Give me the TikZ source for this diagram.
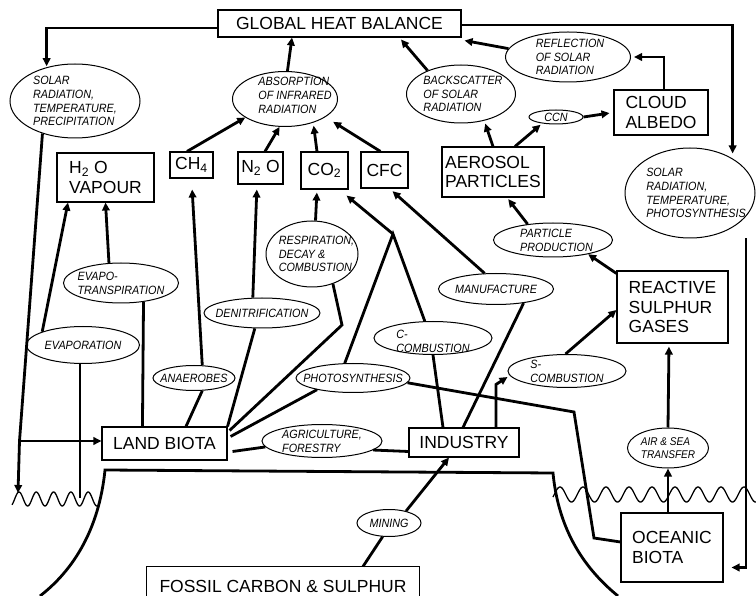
\documentclass[tikz,border=0pt]{standalone}
\usepackage{fontspec}
\setmainfont{Liberation Sans}
\newfontfamily\ellfont[FakeStretch=0.9]{Liberation Sans}
\usetikzlibrary{shapes.geometric,arrows.meta}
\begin{document}
\begin{tikzpicture}[x=1pt,y=-1pt,
  box/.style={draw,line width=1.1pt,inner sep=2pt,font=\fontsize{17.5}{19.5}\selectfont,align=left},
  ell/.style={draw,ellipse,line width=1pt,inner sep=0pt},
  lbl/.style={font=\ellfont\fontsize{12}{13.8}\selectfont\itshape,align=left,inner sep=0pt},
  con/.style={line width=2.8pt},
  arr/.style={con,-{Triangle[length=8pt,width=7.5pt]}},
  wave/.style={line width=1.3pt},
  ground/.style={line width=2.8pt}
]
\useasboundingbox (0,0) rectangle (756,596);

% boxes
\node[box,minimum width=243pt,minimum height=27pt] (ghb) at (339.5,23.5) {GLOBAL HEAT BALANCE};
\node[box,minimum width=97pt,minimum height=49pt] (h2o) at (105.5,177.5) {H\textsubscript{2} O\\VAPOUR};
\node[box,minimum width=43pt,minimum height=26pt] (ch4) at (191.5,165) {CH\textsubscript{4}};
\node[box,minimum width=45pt,minimum height=32pt] (n2o) at (260.5,168) {N\textsubscript{2} O};
\node[box,minimum width=47pt,minimum height=37pt] (co2) at (324.5,170.5) {CO\textsubscript{2}};
\node[box,minimum width=47pt,minimum height=36pt] (cfc) at (384.5,170) {CFC};
\node[box,minimum width=102pt,minimum height=50pt] (aer) at (493,172) {AEROSOL\\PARTICLES};
\node[box,minimum width=94pt,minimum height=45pt] (cloud) at (661,112.5) {CLOUD\\ALBEDO};
\node[box,minimum width=111pt,minimum height=72pt] (rsg) at (672.5,307) {REACTIVE\\SULPHUR\\GASES};
\node[box,minimum width=125pt,minimum height=33pt] (land) at (164.5,443.5) {LAND BIOTA};
\node[box,minimum width=110pt,minimum height=29pt] (ind) at (464,442.5) {INDUSTRY};
\node[box,minimum width=102pt,minimum height=69pt] (ocean) at (672,547.5) {OCEANIC\\BIOTA};
\node[box,draw=none,minimum width=272pt,minimum height=29pt,text height=21pt,text depth=0pt] (fossil) at (283,581.5) {FOSSIL CARBON \& SULPHUR};
\draw[line width=1.1pt] (fossil.south west) -- (fossil.north west) -- (fossil.north east) -- (fossil.south east);

% ellipses
\node[ell,minimum width=130pt,minimum height=74pt,label={[lbl]center:{SOLAR\\RADIATION,\\TEMPERATURE,\\PRECIPITATION}}] (solL) at (75,101) {};
\node[ell,minimum width=105pt,minimum height=55pt,label={[lbl,xshift=10pt,yshift=3.5pt]center:{ABSORPTION\\OF INFRARED\\RADIATION}}] (abs) at (285,99) {};
\node[ell,minimum width=125pt,minimum height=50pt,label={[lbl,xshift=2pt]center:{REFLECTION\\OF SOLAR\\RADIATION}}] (refl) at (568,57) {};
\node[ell,minimum width=109pt,minimum height=58pt,label={[lbl,xshift=2pt]center:{BACKSCATTER\\OF SOLAR\\RADIATION}}] (back) at (461,94) {};
\node[ell,minimum width=54pt,minimum height=14pt,label={[lbl]center:{CCN}}] (ccn) at (556,117) {};
\node[ell,minimum width=130pt,minimum height=90pt,label={[lbl,xshift=6pt]center:{SOLAR\\RADIATION,\\TEMPERATURE,\\PHOTOSYNTHESIS}}] (solR) at (690,193) {};
\node[ell,minimum width=115pt,minimum height=40pt,label={[lbl]center:{EVAPO-\\TRANSPIRATION}}] (evt) at (121,283) {};
\node[ell,minimum width=113pt,minimum height=37pt,label={[lbl]center:{EVAPORATION}}] (evap) at (83,345) {};
\node[ell,minimum width=82pt,minimum height=25pt,label={[lbl]center:{ANAEROBES}}] (anae) at (194,378) {};
\node[ell,minimum width=116pt,minimum height=30pt,label={[lbl]center:{DENITRIFICATION}}] (denit) at (262,313) {};
\node[ell,minimum width=92pt,minimum height=66pt,label={[lbl,xshift=4.5pt]center:{RESPIRATION,\\DECAY \&\\COMBUSTION}}] (resp) at (312,254) {};
\node[ell,minimum width=114pt,minimum height=29pt,label={[lbl]center:{PHOTOSYNTHESIS}}] (photo) at (353,378) {};
\node[ell,minimum width=118pt,minimum height=33pt,label={[lbl,yshift=-3pt]center:{C-\\COMBUSTION}}] (ccomb) at (433,338) {};
\node[ell,minimum width=115pt,minimum height=31pt,label={[lbl]center:{MANUFACTURE}}] (manuf) at (496,289) {};
\node[ell,minimum width=118pt,minimum height=33pt,label={[lbl]center:{S-\\COMBUSTION}}] (scomb) at (567,371) {};
\node[ell,minimum width=119pt,minimum height=34pt,label={[lbl,xshift=3.5pt]center:{PARTICLE\\PRODUCTION}}] (partp) at (553,240) {};
\node[ell,minimum width=120pt,minimum height=33pt,label={[lbl]center:{AGRICULTURE,\\FORESTRY}}] (agri) at (322,441) {};
\node[ell,minimum width=81pt,minimum height=40pt,label={[lbl,font=\ellfont\fontsize{11.2}{13}\selectfont\itshape]center:{AIR \& SEA\\TRANSFER}}] (airsea) at (668,448) {};
\node[ell,minimum width=64pt,minimum height=27pt,label={[lbl]center:{MINING}}] (mining) at (389,523) {};

% ground and water
\draw[ground] (40,596) .. controls (80,565) and (100,520) .. (105,470) -- (553,473) .. controls (558,525) and (580,565) .. (618,596);
\draw[wave] plot[domain=12:97,samples=120] (\x,{499-7*cos((\x-19)/17.3*360)});
\draw[wave] plot[domain=553:756,samples=300] (\x,{494.5-7.5*cos((\x-560)/23*360)});

% coordinates
\coordinate (J) at (393,234);
\coordinate (K) at (342,325);
\coordinate (P1) at (574,412);
\coordinate (P2) at (594,538);
\coordinate (evw) at (80,498);
\coordinate (lb) at (19.5,441);
\coordinate (wl) at (18,493);

% connectors
\draw[arr,shorten >=1pt] ([yshift=-4.5pt]ghb.west) -| (solL.130);
\draw[arr,shorten >=5pt] ([yshift=-1.5pt]ghb.east) -| (solR.39);
\draw[arr] (abs.85) -- ([xshift=-47.5pt]ghb.south);
\draw[arr] ([xshift=-4.5pt]ch4.north) -- (abs.205);
\draw[arr] ([xshift=4.5pt]n2o.north) -- (abs.259);
\draw[arr,shorten >=3pt] ([xshift=-7.5pt]co2.north) -- (abs.-40);
\draw[arr,shorten >=9pt] ([xshift=-4pt]cfc.north) -- (abs.-24);
\draw[arr] (back.145) -- ([xshift=61.5pt,yshift=-2pt]ghb.south);
\draw[arr] (refl.172) -- ([xshift=3pt,yshift=-3pt]ghb.south east);
\draw[arr,shorten >=3pt] ([xshift=3pt]cloud.north) |- (refl.east);
\draw[arr,shorten >=4pt] (ccn.east) -- (cloud.west);
\draw[arr,shorten >=3pt] (aer.north) -- (back.-49);
\draw[arr,shorten >=2pt] ([xshift=22pt]aer.north) -- (ccn.205);
\draw[arr,shorten >=2pt] (partp.148) -- ([xshift=14pt]aer.south);
\draw[arr] ([yshift=-3pt]rsg.north west) -- (partp.-22);
\draw[arr] (scomb.95) -- ([yshift=-3pt]rsg.west);
\draw[arr] ([xshift=32pt]ind.north) -- ([xshift=32pt,yshift=43pt]ind.north) -- ([yshift=-6pt]scomb.west);
\draw[con] ([xshift=-1pt]ind.north) -- (manuf.-27);
\draw[arr,shorten >=4pt] (manuf.126) -- ([xshift=5pt]cfc.south);
\draw[con] (ccomb.south) -- ([xshift=-21pt]ind.north);
\draw[arr] (J) -- ([xshift=-2pt,yshift=-6pt]co2.south east);
\draw[con] (photo.119) -- (J) -- (ccomb.116);
\draw[con] (photo.198) -- ([xshift=3pt,yshift=7pt]land.east);
\draw[con] (resp.-55) -- (K) -- ([xshift=2pt,yshift=13pt]land.east);
\draw[con] (denit.245) -- (land.north east);
\draw[arr,shorten >=5pt] (denit.121) -- ([xshift=-3.5pt]n2o.south);
\draw[con] ([xshift=21.5pt]land.north) -- (anae.-57);
\draw[arr,shorten >=11pt] (anae.57) -- (ch4.south);
\draw[arr,shorten >=3pt] (resp.84) -- ([xshift=-7.5pt]co2.south);
\draw[con] ([xshift=41pt]land.north west) -- (evt.-40);
\draw[arr] (evt.121) -- (h2o.south);
\draw[con] (evw) -- (evw |- evap.south);
\draw[arr] (evap.162) -- ([xshift=-37.5pt]h2o.south);
\draw[arr] (solL.225) -- (lb) -- (wl);
\draw[arr] (lb) -- (lb -| land.west);
\draw[con] ([xshift=5pt,yshift=-8pt]land.east) -- (agri.186);
\draw[con] (agri.-10) -- ([yshift=-9pt]ind.west);
\draw[con] ([xshift=80pt]fossil.north) -- (mining.-115);
\draw[arr] (mining.35) -- ([xshift=-15pt]ind.south);
\draw[con] (photo.-5) -- (P1) -- (P2) -- ([yshift=5.5pt]ocean.west);
\draw[arr] ([xshift=-4pt]ocean.north) -- (airsea.south);
\draw[arr,shorten >=3pt] (airsea.north) -- ([xshift=-3.5pt]rsg.south);
\draw[arr] ([xshift=56pt]solR.south) |- ([xshift=8pt,yshift=-20pt]ocean.east);
\end{tikzpicture}
\end{document}
